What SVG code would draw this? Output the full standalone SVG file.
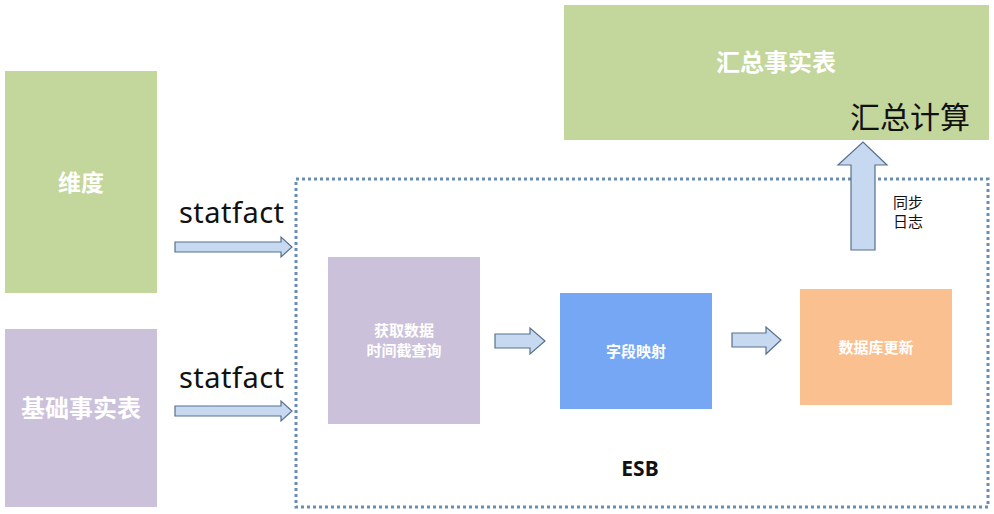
<svg xmlns="http://www.w3.org/2000/svg" width="994" height="514" viewBox="0 0 994 514">
<style>
.cn{font-family:"Noto Sans CJK SC","Noto Sans",sans-serif;}
.wt{fill:#fff;font-weight:bold;text-anchor:middle;}
.lbl{font-family:"Noto Sans","Noto Sans CJK SC",sans-serif;fill:#111;}
.arr{fill:#C6D9F1;stroke:#56708F;stroke-width:1.2;stroke-linejoin:miter;}
</style>
<rect width="994" height="514" fill="#fff"/>
<g id="esb">
<rect x="296" y="179" width="692" height="328" fill="none" stroke="#6A8DB3" stroke-width="3" stroke-dasharray="3 3"/>
<text x="640" y="476" class="lbl" font-family="Noto Sans" font-weight="bold" font-size="21" text-anchor="middle">ESB</text>
</g>
<g id="weidu">
<rect x="5" y="71" width="152" height="222" fill="#C3D69B"/>
<text x="81" y="191" class="cn wt" font-size="23">维度</text>
</g>
<g id="jichu">
<rect x="5" y="329" width="152" height="178" fill="#CCC1DA"/>
<text x="81" y="417" class="cn wt" font-size="24">基础事实表</text>
</g>
<g id="huizong">
<rect x="564" y="5" width="425" height="135" fill="#C3D69B"/>
<text x="776" y="71" class="cn wt" font-size="24">汇总事实表</text>
<text x="910" y="128" class="cn" font-size="30" fill="#111" text-anchor="middle">汇总计算</text>
</g>
<g id="huoqu">
<rect x="328" y="257" width="152" height="167" fill="#CCC1DA"/>
<text x="404" y="336" class="cn wt" font-size="15">获取数据</text>
<text x="404" y="356" class="cn wt" font-size="15">时间截查询</text>
</g>
<g id="ziduan">
<rect x="560" y="293" width="152" height="116" fill="#75A7F5"/>
<text x="636" y="357" class="cn wt" font-size="15">字段映射</text>
</g>
<g id="gengxin">
<rect x="800" y="289" width="152" height="116" fill="#FAC090"/>
<text x="876" y="353" class="cn wt" font-size="15">数据库更新</text>
</g>
<g id="connectors">
<polygon class="arr" points="175,242 281,242 281,237 292,247 281,257 281,252 175,252"/>
<text x="179" y="223" class="lbl" font-size="29" textLength="105">statfact</text>
<polygon class="arr" points="175,406 281,406 281,401 292,411 281,421 281,416 175,416"/>
<text x="179" y="388" class="lbl" font-size="29" textLength="105">statfact</text>
<polygon class="arr" points="495,334 530,334 530,328 545,341 530,354 530,348 495,348"/>
<polygon class="arr" points="732,333 766,333 766,327 781,340 766,354 766,347 732,347"/>
<polygon class="arr" points="851,250 851,165 838,165 863,142 887,165 875,165 875,250"/>
<text x="908" y="208" class="cn" font-size="15" fill="#111" text-anchor="middle">同步</text>
<text x="908" y="227" class="cn" font-size="15" fill="#111" text-anchor="middle">日志</text>
</g>
</svg>
